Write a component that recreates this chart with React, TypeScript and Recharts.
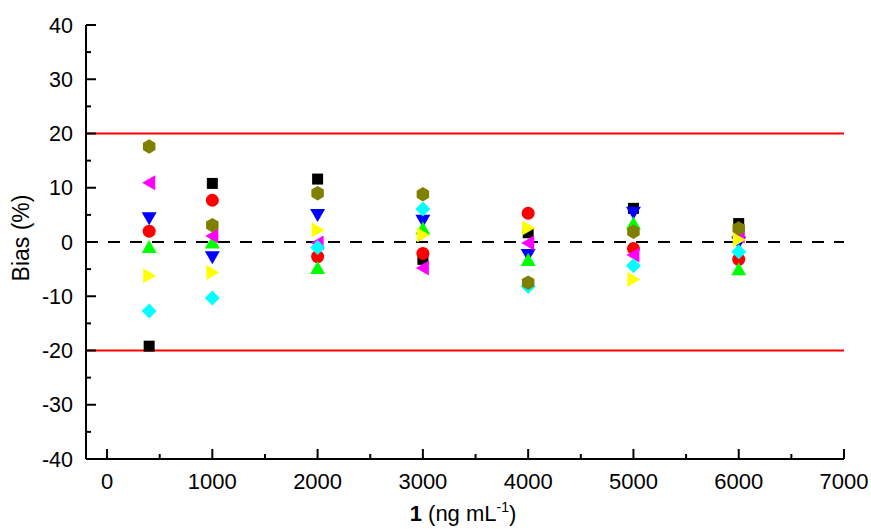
import React from "react";
import {
  ScatterChart,
  Scatter,
  XAxis,
  YAxis,
  ReferenceLine,
} from "recharts";

// concentrations (ng/mL) and bias (%) per replicate series
const concentrations = [400, 1000, 2000, 3000, 4000, 5000, 6000];
const blackSquare = [-19.2, 10.8, 11.6, -3.2, 1.7, 6.2, 3.4];
const redCircle = [2.0, 7.7, -2.7, -2.1, 5.3, -1.2, -3.2];
const blueDown = [4.4, -2.8, 5.0, 3.9, -2.4, 5.4, -0.1];
const greenUp = [-0.9, -0.1, -4.8, 2.5, -3.3, 3.4, -5.0];
const magentaLeft = [10.9, 1.1, -0.2, -4.8, -0.2, -2.4, 1.1];
const yellowRight = [-6.2, -5.6, 2.2, 1.3, 2.6, -6.9, 0.4];
const cyanDiamond = [-12.7, -10.3, -1.0, 6.1, -8.2, -4.4, -1.8];
const oliveHexagon = [17.6, 3.1, 9.0, 8.8, -7.5, 1.9, 2.5];

const xTicks = [0, 500, 1000, 1500, 2000, 2500, 3000, 3500, 4000, 4500, 5000, 5500, 6000, 6500, 7000];
const yTicks = [-40, -35, -30, -25, -20, -15, -10, -5, 0, 5, 10, 15, 20, 25, 30, 35, 40];

const toPoints = (vals: number[]) =>
  concentrations.map((c, i) => ({ x: c, y: vals[i] }));

const FONT = "'Liberation Sans', Arial, sans-serif";

// marker shapes
const square = (color: string) => (p: any) => (
  <rect x={p.cx - 5.5} y={p.cy - 5.5} width={11} height={11} fill={color} />
);
const circle = (color: string) => (p: any) => (
  <circle cx={p.cx} cy={p.cy} r={6.5} fill={color} />
);
const poly = (color: string, pts: number[][]) => (p: any) => (
  <polygon
    points={pts.map(([dx, dy]) => `${p.cx + dx},${p.cy + dy}`).join(" ")}
    fill={color}
  />
);
const hexPts = [0, 60, 120, 180, 240, 300].map((a) => {
  const r = (a - 90) * (Math.PI / 180);
  return [7.2 * Math.cos(r), 7.2 * Math.sin(r)];
});

const series = [
  { name: "s1", vals: blackSquare, shape: square("#000000") },
  { name: "s2", vals: redCircle, shape: circle("#ff0000") },
  { name: "s3", vals: blueDown, shape: poly("#0000ff", [[-7.5, -6], [7.5, -6], [0, 7]]) },
  { name: "s4", vals: greenUp, shape: poly("#00ff00", [[-7.5, 6], [7.5, 6], [0, -7]]) },
  { name: "s5", vals: magentaLeft, shape: poly("#ff00ff", [[6, -7.5], [6, 7.5], [-7, 0]]) },
  { name: "s6", vals: yellowRight, shape: poly("#ffff00", [[-6, -7.5], [-6, 7.5], [7, 0]]) },
  { name: "s7", vals: cyanDiamond, shape: poly("#00ffff", [[0, -7.5], [7.5, 0], [0, 7.5], [-7.5, 0]]) },
  { name: "s8", vals: oliveHexagon, shape: poly("#808000", hexPts) },
];

const YTick = (props: any) => {
  const { x, y, payload } = props;
  const major = payload.value % 10 === 0;
  return (
    <g>
      <line x1={x} y1={y} x2={x + (major ? 10 : 5)} y2={y} stroke="#000" strokeWidth={2} />
      {major && (
        <text x={x - 13} y={y} dy={7.5} textAnchor="end" fontSize={21.5} fontFamily={FONT} fill="#000">
          {payload.value}
        </text>
      )}
    </g>
  );
};

const XTick = (props: any) => {
  const { x, y, payload } = props;
  const major = payload.value % 1000 === 0;
  return (
    <g>
      <line x1={x} y1={y} x2={x} y2={y - (major ? 10 : 5)} stroke="#000" strokeWidth={2} />
      {major && (
        <text x={x} y={y + 30} textAnchor="middle" fontSize={22} fontFamily={FONT} fill="#000">
          {payload.value}
        </text>
      )}
    </g>
  );
};

const App = () => {
  return (
    <div style={{ position: "fixed", left: 0, top: 0, background: "#fff" }}>
      <ScatterChart width={871} height={529} margin={{ top: 25, right: 27, left: 0, bottom: 0 }}>
        <XAxis
          type="number"
          dataKey="x"
          domain={[-200, 7000]}
          ticks={xTicks}
          interval={0}
          height={70}
          tickSize={0}
          tickMargin={0}
          tickLine={false}
          axisLine={{ stroke: "#000", strokeWidth: 2 }}
          tick={<XTick />}
          label={() => (
            <text x={463} y={521} textAnchor="middle" fontSize={22} fontFamily={FONT} fill="#000">
              <tspan fontWeight="bold">1</tspan>
              <tspan> (ng mL</tspan>
              <tspan dy={-9} fontSize={14}>-1</tspan>
              <tspan dy={9}>)</tspan>
            </text>
          )}
        />
        <YAxis
          type="number"
          dataKey="y"
          domain={[-40, 40]}
          ticks={yTicks}
          interval={0}
          width={86}
          tickSize={0}
          tickMargin={0}
          tickLine={false}
          axisLine={{ stroke: "#000", strokeWidth: 2 }}
          tick={<YTick />}
          label={() => (
            <text
              x={29}
              y={238}
              transform="rotate(-90 29 238)"
              textAnchor="middle"
              fontSize={23}
              fontFamily={FONT}
              fill="#000"
            >
              Bias (%)
            </text>
          )}
        />
        <ReferenceLine y={20} stroke="#ff0000" strokeWidth={2} />
        <ReferenceLine y={-20} stroke="#ff0000" strokeWidth={2} />
        <ReferenceLine y={0} stroke="#000" strokeWidth={2} strokeDasharray="12 10" />
        {series.map((s) => (
          <Scatter
            key={s.name}
            name={s.name}
            data={toPoints(s.vals)}
            shape={s.shape}
            isAnimationActive={false}
          />
        ))}
      </ScatterChart>
    </div>
  );
};

export default App;
